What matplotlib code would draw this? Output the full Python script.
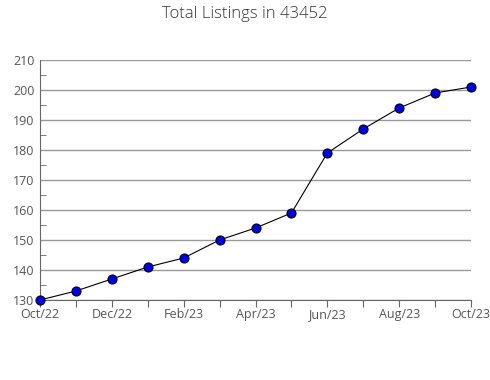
import matplotlib.pyplot as plt
from matplotlib.ticker import MultipleLocator

plt.rcParams['font.family'] = ['Open Sans', 'DejaVu Sans']

months = ['Oct/22', 'Nov/22', 'Dec/22', 'Jan/23', 'Feb/23', 'Mar/23', 'Apr/23',
          'May/23', 'Jun/23', 'Jul/23', 'Aug/23', 'Sep/23', 'Oct/23']
listings = [130, 133, 137, 141, 144, 150, 154, 159, 179, 187, 194, 199, 201]

fig = plt.figure(figsize=(4.9, 3.8), dpi=100)
ax = fig.add_axes([40 / 490, 80 / 380, 431 / 490, 240 / 380])

x = list(range(len(months)))
ax.plot(x, listings, color='black', linewidth=0.8, marker='o', markersize=6.5,
        markerfacecolor='#0000ee', markeredgecolor='black', markeredgewidth=0.8,
        zorder=3, clip_on=False)

ax.set_xlim(0, len(months) - 1)
ax.set_ylim(130, 210)
ax.set_xticks(x)
ax.set_xticklabels([m if i % 2 == 0 else '' for i, m in enumerate(months)])
ax.yaxis.set_major_locator(MultipleLocator(10))
ax.yaxis.set_minor_locator(MultipleLocator(5))

ax.grid(axis='y', which='major', color='#999999', linewidth=1)
ax.set_axisbelow(True)
for s in ['top', 'right']:
    ax.spines[s].set_visible(False)
for s in ['left', 'bottom']:
    ax.spines[s].set_color('#666666')

ax.tick_params(axis='y', which='major', length=0, labelsize=9, labelcolor='#555555', pad=4)
ax.tick_params(axis='y', which='minor', direction='in', length=4, color='#666666')
ax.tick_params(axis='x', length=5, color='#666666', labelsize=9, labelcolor='#555555', pad=1)

fig.suptitle('Total Listings in 43452', fontsize=12, color='#333333',
             fontweight='light', y=0.985)

fig.savefig('out.png', dpi=100)
